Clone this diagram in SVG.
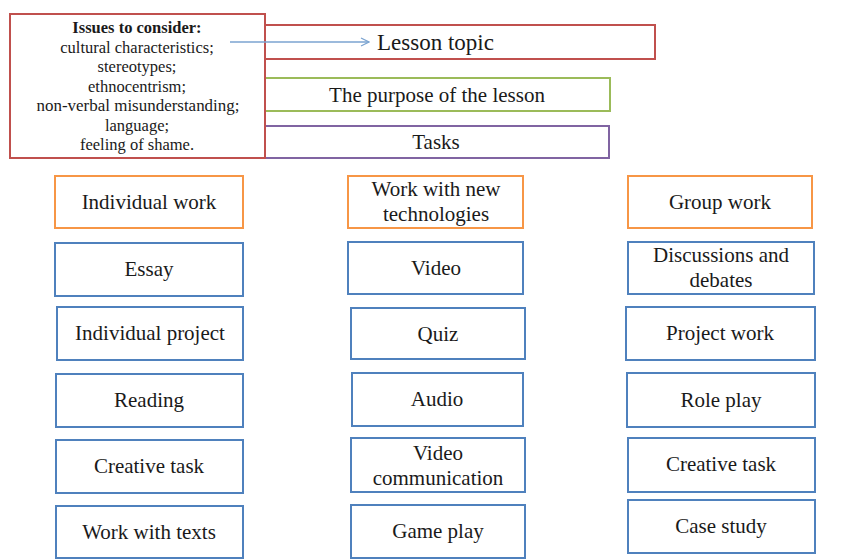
<svg xmlns="http://www.w3.org/2000/svg" width="841" height="559" viewBox="0 0 841 559">
<style>
text{font-family:"Liberation Serif","Times New Roman",serif;fill:#1a1a1a;}
.t{font-size:21px;text-anchor:middle;}
.s{font-size:16.5px;text-anchor:middle;}
.b{font-weight:bold;}
rect{fill:#fff;stroke-width:2;}
.red{stroke:#C0504D;}
.grn{stroke:#9BBB59;}
.pur{stroke:#8064A2;}
.org{stroke:#F79646;}
.blu{stroke:#4F81BD;}
</style>
<defs>
<marker id="ah" viewBox="0 0 10 10" refX="9" refY="5" markerWidth="10" markerHeight="10" markerUnits="userSpaceOnUse" orient="auto">
<path d="M1,1 L9,5 L1,9" fill="none" stroke="#7BA3D0" stroke-width="1.3"/>
</marker>
</defs>
<g id="lesson-topic"><rect class="red" x="265" y="25" width="390" height="34"/><text x="377" y="50" font-size="23">Lesson topic</text></g>
<g id="purpose"><rect class="grn" x="265" y="78" width="345" height="33"/><text class="t" x="437" y="102">The purpose of the lesson</text></g>
<g id="tasks"><rect class="pur" x="263" y="126" width="346" height="32"/><text class="t" x="436" y="149">Tasks</text></g>
<g id="issues"><rect class="red" x="10" y="14" width="255" height="144"/>
<text class="s b" x="137" y="33">Issues to consider:</text>
<text class="s" x="137" y="52.5">cultural characteristics;</text>
<text class="s" x="137" y="72">stereotypes;</text>
<text class="s" x="137" y="91.5">ethnocentrism;</text>
<text class="s" x="138" y="111" textLength="203" lengthAdjust="spacingAndGlyphs">non-verbal misunderstanding;</text>
<text class="s" x="137" y="130.5">language;</text>
<text class="s" x="137" y="150">feeling of shame.</text>
</g>
<g id="connectors"><line x1="230" y1="42" x2="369" y2="42" stroke="#7BA3D0" stroke-width="1.3" marker-end="url(#ah)"/></g>
<g id="individual-work"><rect class="org" x="55" y="176" width="188" height="52"/><text class="t" x="149" y="209">Individual  work</text></g>
<g id="essay"><rect class="blu" x="55" y="243" width="188" height="53"/><text class="t" x="149" y="276">Essay</text></g>
<g id="individual-project"><rect class="blu" x="57" y="307" width="186" height="53"/><text class="t" x="150" y="340">Individual  project</text></g>
<g id="reading"><rect class="blu" x="56" y="374" width="187" height="53"/><text class="t" x="149" y="407">Reading</text></g>
<g id="creative-task-1"><rect class="blu" x="56" y="440" width="187" height="53"/><text class="t" x="149" y="473">Creative task</text></g>
<g id="work-with-texts"><rect class="blu" x="56" y="506" width="187" height="52"/><text class="t" x="149" y="539">Work with texts</text></g>
<g id="new-tech"><rect class="org" x="348" y="176" width="175" height="52"/><text class="t" x="436" y="196">Work with new</text><text class="t" x="436" y="221">technologies</text></g>
<g id="video"><rect class="blu" x="348" y="242" width="175" height="52"/><text class="t" x="436" y="275">Video</text></g>
<g id="quiz"><rect class="blu" x="351" y="308" width="174" height="51"/><text class="t" x="438" y="341">Quiz</text></g>
<g id="audio"><rect class="blu" x="352" y="373" width="171" height="53"/><text class="t" x="437" y="406">Audio</text></g>
<g id="video-communication"><rect class="blu" x="351" y="438" width="174" height="54"/><text class="t" x="438" y="460">Video</text><text class="t" x="438" y="485">communication</text></g>
<g id="game-play"><rect class="blu" x="351" y="505" width="174" height="53"/><text class="t" x="438" y="538">Game play</text></g>
<g id="group-work"><rect class="org" x="628" y="176" width="184" height="52"/><text class="t" x="720" y="209">Group work</text></g>
<g id="discussions"><rect class="blu" x="628" y="242" width="186" height="52"/><text class="t" x="721" y="262">Discussions and</text><text class="t" x="721" y="287">debates</text></g>
<g id="project-work"><rect class="blu" x="626" y="307" width="189" height="53"/><text class="t" x="720" y="340">Project work</text></g>
<g id="role-play"><rect class="blu" x="627" y="373" width="188" height="54"/><text class="t" x="721" y="407">Role play</text></g>
<g id="creative-task-2"><rect class="blu" x="628" y="438" width="187" height="54"/><text class="t" x="721" y="471">Creative task</text></g>
<g id="case-study"><rect class="blu" x="628" y="500" width="187" height="53"/><text class="t" x="721" y="533">Case study</text></g>
</svg>
